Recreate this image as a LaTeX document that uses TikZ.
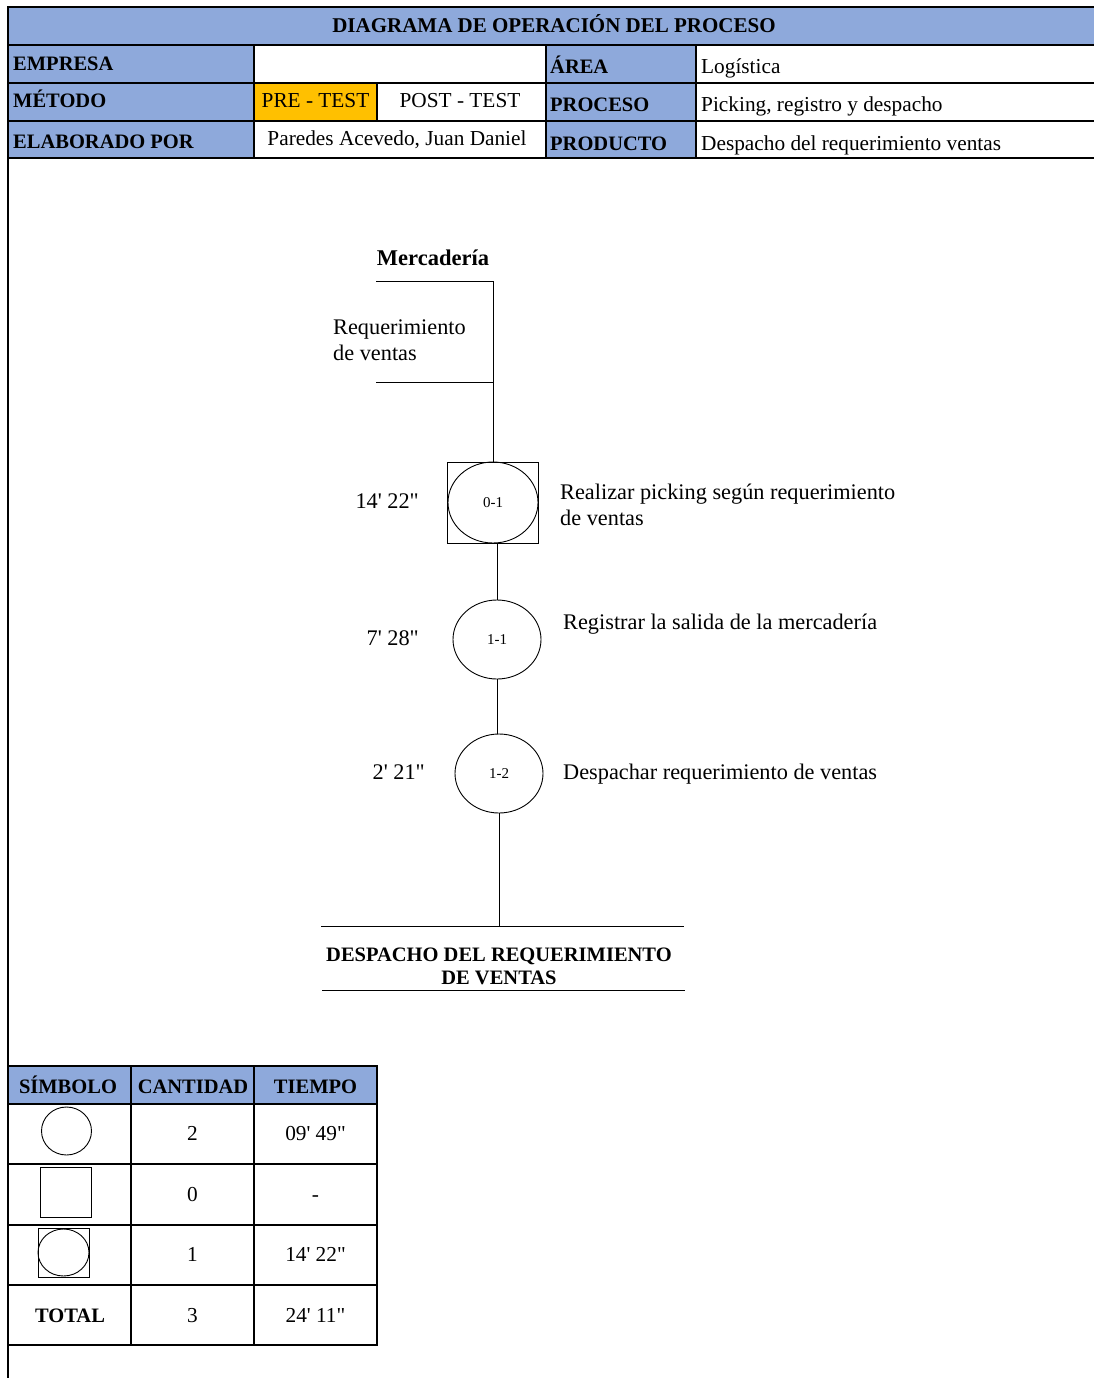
\documentclass[tikz,border=0pt]{standalone}
\usepackage{fontspec}
\setmainfont{Liberation Serif}[Ligatures=TeXOff]
\usetikzlibrary{shapes.geometric}
\definecolor{hdrblue}{HTML}{8EA9DB}
\definecolor{preorange}{HTML}{FFC000}
\tikzset{
  cellline/.style={line width=1.6pt, line cap=rect},
  flowline/.style={line width=0.9pt},
  lbl/.style={font=\bfseries\fontsize{20.5}{22}\selectfont, anchor=base west, inner sep=0pt},
  lblc/.style={font=\bfseries\fontsize{20.5}{22}\selectfont, anchor=base, inner sep=0pt},
  val/.style={font=\fontsize{21.3}{23}\selectfont, anchor=base west, inner sep=0pt},
  valc/.style={font=\fontsize{21.3}{23}\selectfont, anchor=base, inner sep=0pt},
  txt/.style={font=\fontsize{22.3}{24}\selectfont, anchor=base west, inner sep=0pt},
  oper/.style={draw, ellipse, line width=0.9pt, minimum width=88pt, minimum height=79pt, inner sep=0pt, font=\fontsize{15}{17}\selectfont},
  combo/.style={draw, rectangle, line width=0.9pt, minimum width=91pt, minimum height=81pt, inner sep=0pt},
}
\begin{document}
\begin{tikzpicture}[x=1pt, y=-1pt]
\useasboundingbox (0,0) rectangle (1094,1378);
\fill[white] (0,0) rectangle (1094,1378);

% ---------- header table: fills ----------
\fill[hdrblue] (8,7) rectangle (1094,45);
\fill[hdrblue] (8,45) rectangle (254,158);
\fill[hdrblue] (546,45) rectangle (696,158);
\fill[preorange] (254,83) rectangle (377,121);

% ---------- header table: grid ----------
\foreach \yy in {7,45,83,121,158} \draw[cellline] (8,\yy) -- (1094,\yy);
\draw[cellline] (254,45) -- (254,158);
\draw[cellline] (546,45) -- (546,158);
\draw[cellline] (696,45) -- (696,158);
\draw[cellline] (377,83) -- (377,121);
\draw[cellline] (8,7) -- (8,1378);

% ---------- header table: texts ----------
\node[lblc, font=\bfseries\fontsize{21}{23}\selectfont] (title) at (554,33) {DIAGRAMA DE OPERACIÓN DEL PROCESO};
\node[lbl] (lEmpresa) at (13,71) {EMPRESA};
\node[lbl] (lArea) at (550,74) {ÁREA};
\node[val] (vArea) at (701,74) {Logística};
\node[lbl] (lMetodo) at (13,108) {MÉTODO};
\node[valc] (vPre) at (315.5,108) {PRE - TEST};
\node[valc] (vPost) at (460,108) {POST - TEST};
\node[lbl] (lProceso) at (550,112) {PROCESO};
\node[val] (vProceso) at (701,112) {Picking, registro y despacho};
\node[lbl] (lElab) at (13,148) {ELABORADO POR};
\node[valc] (vElab) at (397,146) {Paredes Acevedo, Juan Daniel};
\node[lbl] (lProducto) at (550,150) {PRODUCTO};
\node[val] (vProducto) at (701,150) {Despacho del requerimiento ventas};

% ---------- process chart ----------
\node[lblc, font=\bfseries\fontsize{22.5}{24}\selectfont] (merc) at (433,265) {Mercadería};
\coordinate (inTopL) at (376,281);
\coordinate (inTopR) at (493,281);
\coordinate (inBotL) at (376,382);
\coordinate (inBotR) at (493,382);
\node[txt] (req1) at (333,334) {Requerimiento};
\node[txt] (req2) at (333,360) {de ventas};
\draw[flowline] (inTopL) -- (inTopR);
\draw[flowline] (inBotL) -- (inBotR);

% combined operation 0-1
\node[combo] (s01) at (493,502.5) {};
\node[oper, minimum width=90pt, minimum height=81pt] (c01) at (s01.center) {0-1};
\node[txt, anchor=base east] (t01) at (419,508) {14' 22"};
\node[txt] (d01a) at (560,499) {Realizar picking según requerimiento};
\node[txt] (d01b) at (560,525) {de ventas};

% operation 1-1
\node[oper] (c11) at (497,639.5) {1-1};
\node[txt, anchor=base east] (t11) at (419,645) {7' 28"};
\node[txt] (d11) at (563,629) {Registrar la salida de la mercadería};

% operation 1-2
\node[oper] (c12) at (499,773.5) {1-2};
\node[txt, anchor=base east] (t12) at (425,779) {2' 21"};
\node[txt] (d12) at (563,779) {Despachar requerimiento de ventas};

% output
\coordinate (outL) at (321,926);
\coordinate (outR) at (684,926);
\coordinate (outM) at (499,926);
\coordinate (outBL) at (322,990);
\coordinate (outBR) at (685,990);
\node[lblc] (out1) at (499,961) {DESPACHO DEL REQUERIMIENTO};
\node[lblc] (out2) at (499,984) {DE VENTAS};

% connectors
\draw[flowline] (inTopR) -- (s01.north);
\draw[flowline] (s01.south -| c11.north) -- (c11.north);
\draw[flowline] (c11.south) -- (c11.south |- c12.north);
\draw[flowline] (c12.south) -- (outM);
\draw[flowline] (outL) -- (outR);
\draw[flowline] (outBL) -- (outBR);

% ---------- summary table ----------
\fill[hdrblue] (8,1066) rectangle (377,1104);
\foreach \yy in {1066,1104,1164,1225,1285,1345} \draw[cellline] (8,\yy) -- (377,\yy);
\foreach \xx in {8,131,254,377} \draw[cellline] (\xx,1066) -- (\xx,1345);

\node[lblc] (hSym) at (68,1093) {SÍMBOLO};
\node[lblc] (hCant) at (193,1093) {CANTIDAD};
\node[lblc] (hTiem) at (315.5,1093) {TIEMPO};

\node[draw, ellipse, line width=0.9pt, minimum width=50pt, minimum height=48pt, inner sep=0pt] (symOp) at (66.5,1131) {};
\node[draw, rectangle, line width=0.9pt, minimum width=51pt, minimum height=50pt, inner sep=0pt] (symIn) at (65.5,1192.5) {};
\node[draw, rectangle, line width=0.9pt, minimum width=51pt, minimum height=49pt, inner sep=0pt] (symCo) at (63.5,1252.5) {};
\node[draw, ellipse, line width=0.9pt, minimum width=51pt, minimum height=47pt, inner sep=0pt] (symCoC) at (symCo.center) {};

\node[valc] (n1) at (192.5,1140) {2};
\node[valc] (m1) at (315.5,1140) {09' 49"};
\node[valc] (n2) at (192.5,1201) {0};
\node[valc] (m2) at (315.5,1201) {-};
\node[valc] (n3) at (192.5,1261) {1};
\node[valc] (m3) at (315.5,1261) {14' 22"};
\node[lblc] (tot) at (70,1322) {TOTAL};
\node[valc] (n4) at (192.5,1322) {3};
\node[valc] (m4) at (315.5,1322) {24' 11"};
\end{tikzpicture}
\end{document}
